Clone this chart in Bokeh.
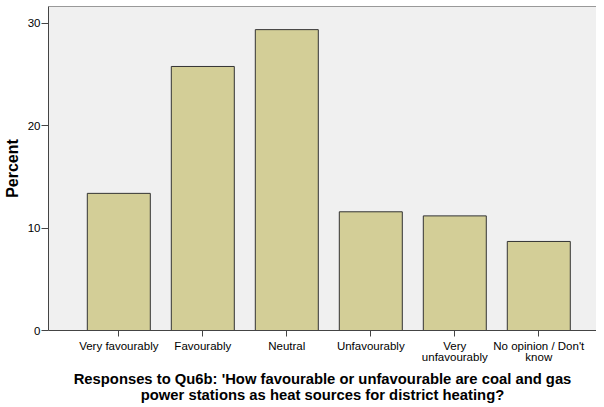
from bokeh.plotting import figure
from bokeh.models import Range1d, FixedTicker, LinearAxis, ColumnDataSource
from bokeh.embed import file_html
from bokeh.resources import INLINE

categories = ["Very favourably", "Favourably", "Neutral", "Unfavourably",
              "Very\nunfavourably", "No opinion / Don't\nknow"]
percent = [13.4, 25.8, 29.4, 11.6, 11.2, 8.7]
y_ticks = [0, 10, 20, 30]
title_lines = ["Responses to Qu6b: 'How favourable or unfavourable are coal and gas",
               "power stations as heat sources for district heating?"]

xs = list(range(len(categories)))
src = ColumnDataSource(dict(x=xs, top=percent))

p = figure(width=596, height=405, output_backend="svg", toolbar_location=None,
           x_range=Range1d(-0.837, 5.687), y_range=Range1d(0, 31.66),
           min_border_left=48, min_border_right=0, min_border_top=6, min_border_bottom=0,
           background_fill_color="#F0F0F0", border_fill_color="white")
p.outline_line_color = None
p.grid.visible = False

p.vbar(x="x", top="top", bottom=0, width=0.75, source=src,
       fill_color="#D3CE97", line_color="#333333", line_width=1)

FONT = "Liberation Sans"

# x axis
xa = p.xaxis[0]
xa.ticker = FixedTicker(ticks=xs)
xa.major_label_overrides = {i: c for i, c in enumerate(categories)}
xa.major_label_text_font = FONT
xa.major_label_text_font_size = "11.5px"
xa.major_label_text_line_height = 0.95
xa.major_label_text_color = "black"
xa.major_label_standoff = 3
xa.major_tick_out = 6
xa.major_tick_in = 0
xa.minor_tick_out = 0
xa.minor_tick_in = 0
xa.axis_line_color = "#444444"
xa.major_tick_line_color = "#444444"
xa.axis_label = "\n".join(title_lines)
xa.axis_label_text_font = FONT
xa.axis_label_text_font_size = "14.8px"
xa.axis_label_text_font_style = "bold"
xa.axis_label_text_color = "black"
xa.axis_label_text_line_height = 1.0
xa.axis_label_standoff = 5

# y axis
ya = p.yaxis[0]
ya.ticker = FixedTicker(ticks=y_ticks)
ya.major_label_text_font = FONT
ya.major_label_text_font_size = "11.5px"
ya.major_label_text_color = "black"
ya.major_label_standoff = 1
ya.major_tick_out = 7
ya.major_tick_in = 0
ya.minor_tick_out = 0
ya.minor_tick_in = 0
ya.axis_line_color = "#444444"
ya.major_tick_line_color = "#444444"
ya.axis_label = "Percent"
ya.axis_label_text_font = FONT
ya.axis_label_text_font_size = "16px"
ya.axis_label_text_font_style = "bold"
ya.axis_label_text_color = "black"
ya.axis_label_standoff = 4

# top frame line
top = LinearAxis(ticker=FixedTicker(ticks=[]), major_label_text_font_size="0px",
                 major_tick_out=0, major_tick_in=0, minor_tick_out=0, minor_tick_in=0,
                 axis_line_color="#999999", major_label_standoff=0)
p.add_layout(top, "above")

open("out.html", "w").write(file_html(p, INLINE))
